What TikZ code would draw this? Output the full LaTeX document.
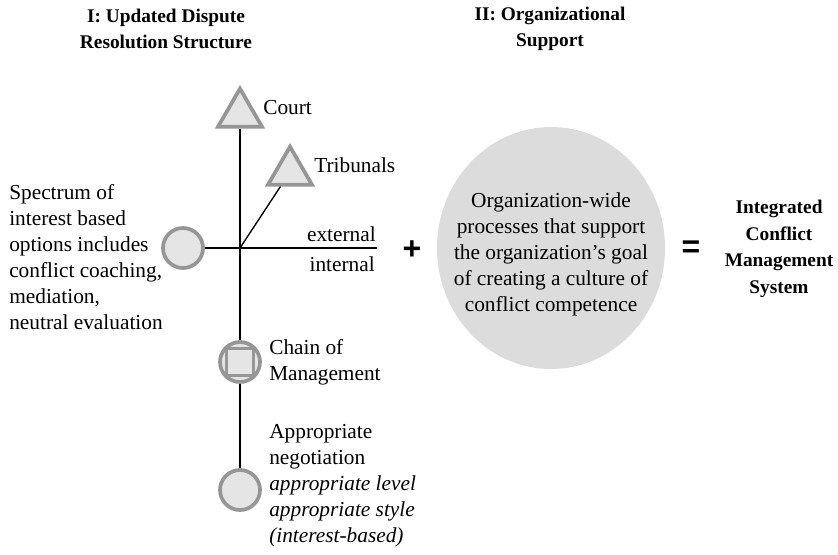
\documentclass[tikz,border=0pt]{standalone}
\usepackage{amsmath}
\usepackage{fontspec}
\setmainfont{Liberation Serif}
\newfontfamily\signfont{Liberation Sans}
\usepackage{tikz}
\usetikzlibrary{shapes}
\definecolor{lightfill}{RGB}{229,229,230}
\definecolor{rimgray}{RGB}{150,150,150}
\definecolor{blobgray}{RGB}{220,220,221}

\begin{document}
\begin{tikzpicture}[x=0.75pt,y=0.75pt,yscale=-1,xscale=1,
  triang/.style={regular polygon,regular polygon sides=3,minimum size=38pt,inner sep=0pt,draw=rimgray,fill=lightfill,line width=2.8pt},
  dot/.style={circle,minimum size=30pt,inner sep=0pt,draw=rimgray,fill=lightfill,line width=2.8pt},
  body/.style={inner sep=0.75pt,align=left,font=\fontsize{16}{19.5}\selectfont},
  head/.style={inner sep=0.75pt,align=center,font=\fontsize{14.5}{20}\selectfont\bfseries},
  sign/.style={inner sep=0.75pt,font=\fontsize{24}{24}\selectfont\signfont\bfseries},
  stem/.style={line width=1pt}]
\useasboundingbox (0,0) rectangle (838,554);

%Shapes
\node [triang] (court) at (240,114) {};
\node [triang] (trib) at (290,172) {};
\node [dot] (spec) at (183,248) {};
\node [dot] (chain) at (240,362) {};
\node [draw=rimgray,line width=2pt,minimum size=20pt,inner sep=0pt] (chainbox) at (chain) {};
\node [dot] (nego) at (240,490) {};
\node [ellipse,fill=blobgray,minimum width=171pt,minimum height=181.5pt,inner sep=0pt] (org) at (551,248) {};
\coordinate (junc) at (240,248);
\coordinate (hend) at (377,248);

%Straight Lines
\draw [stem] (court.south) -- (chain.north) ;
\draw [stem] (chain.south) -- (nego.north) ;
\draw [stem] (spec.east) -- (hend) ;
\draw [stem] (junc) -- (trib) ;

% Text Node
\node [head] (headI) at (166,29) {I: Updated Dispute\\Resolution Structure};
% Text Node
\node [head] (headII) at (550,29) {II: Organizational\\Support};
% Text Node
\node [body,anchor=west] (courtlbl) at (262,108) {Court};
% Text Node
\node [body,anchor=west] (triblbl) at (313,165) {Tribunals};
% Text Node
\node [body,anchor=south east] (extlbl) at (377,243) {external};
% Text Node
\node [body,anchor=north east] (intlbl) at (376,255) {internal};
% Text Node
\node [body,anchor=west] (speclbl) at (8,257) {Spectrum of\\interest based\\options includes\\conflict coaching,\\mediation,\\neutral evaluation};
% Text Node
\node [body,anchor=west] (chainlbl) at (268,362) {Chain of\\Management};
% Text Node
\node [body,anchor=west] (negolbl) at (268,486) {Appropriate\\negotiation\\\textit{appropriate level}\\\textit{appropriate style}\\\textit{(interest-based)}};
% Text Node
\node [body,align=center] (orglbl) at (551,254) {Organization-wide\\processes that support\\the organization’s goal\\of creating a culture of\\conflict competence};
% Text Node
\node [sign] (plus) at (412,250) {+};
% Text Node
\node [sign] (equals) at (691,249) {=};
% Text Node
\node [head] (icms) at (779,249) {Integrated\\Conflict\\Management\\System};

\end{tikzpicture}
\end{document}
